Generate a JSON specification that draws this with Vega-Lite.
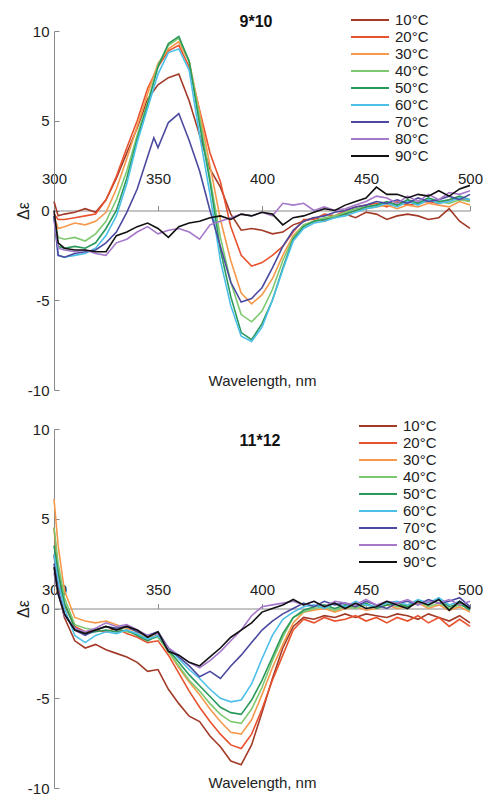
{
"$schema":"https://vega.github.io/schema/vega-lite/v6.json",
"background":"white",
"padding":{"left":15,"top":11,"right":2,"bottom":2},
"config":{"font":"Liberation Sans","view":{"stroke":null},
"axis":{"domainColor":"#8a8a8a","tickColor":"#8a8a8a","labelColor":"#222","titleColor":"#222","grid":false,"titleFontWeight":"normal","labelFont":"Liberation Sans","titleFont":"Liberation Sans"},
"legend":{"labelFont":"Liberation Sans","labelColor":"#222","padding":0}},
"spacing":39,
"bounds":"flush",
"resolve":{"legend":{"color":"independent"}},
"datasets":{
"p1":[
{"temp":"10°C","nm":300,"de":0.5},{"temp":"10°C","nm":302,"de":-0.3},{"temp":"10°C","nm":305,"de":-0.2},{"temp":"10°C","nm":310,"de":-0.1},{"temp":"10°C","nm":315,"de":0.1},{"temp":"10°C","nm":320,"de":-0.1},{"temp":"10°C","nm":325,"de":0.6},{"temp":"10°C","nm":330,"de":1.8},{"temp":"10°C","nm":335,"de":3.2},{"temp":"10°C","nm":340,"de":4.6},{"temp":"10°C","nm":345,"de":6.2},{"temp":"10°C","nm":350,"de":7.0},{"temp":"10°C","nm":355,"de":7.4},{"temp":"10°C","nm":360,"de":7.6},{"temp":"10°C","nm":365,"de":6.1},{"temp":"10°C","nm":370,"de":4.2},{"temp":"10°C","nm":375,"de":2.3},{"temp":"10°C","nm":380,"de":1.3},{"temp":"10°C","nm":385,"de":-0.2},{"temp":"10°C","nm":390,"de":-1.1},{"temp":"10°C","nm":395,"de":-1.0},{"temp":"10°C","nm":400,"de":-1.1},{"temp":"10°C","nm":405,"de":-1.3},{"temp":"10°C","nm":410,"de":-1.2},{"temp":"10°C","nm":415,"de":-0.8},{"temp":"10°C","nm":420,"de":-0.6},{"temp":"10°C","nm":425,"de":-0.4},{"temp":"10°C","nm":430,"de":-0.6},{"temp":"10°C","nm":435,"de":-0.3},{"temp":"10°C","nm":440,"de":-0.2},{"temp":"10°C","nm":445,"de":-0.4},{"temp":"10°C","nm":450,"de":-0.1},{"temp":"10°C","nm":455,"de":-0.2},{"temp":"10°C","nm":460,"de":-0.5},{"temp":"10°C","nm":465,"de":-0.3},{"temp":"10°C","nm":470,"de":-0.2},{"temp":"10°C","nm":475,"de":-0.3},{"temp":"10°C","nm":480,"de":-0.5},{"temp":"10°C","nm":485,"de":-0.4},{"temp":"10°C","nm":490,"de":0.1},{"temp":"10°C","nm":495,"de":-0.6},{"temp":"10°C","nm":500,"de":-1.0},
{"temp":"20°C","nm":300,"de":-0.2},{"temp":"20°C","nm":302,"de":-0.5},{"temp":"20°C","nm":305,"de":-0.5},{"temp":"20°C","nm":310,"de":-0.4},{"temp":"20°C","nm":315,"de":-0.3},{"temp":"20°C","nm":320,"de":-0.2},{"temp":"20°C","nm":325,"de":0.6},{"temp":"20°C","nm":330,"de":1.9},{"temp":"20°C","nm":335,"de":3.5},{"temp":"20°C","nm":340,"de":5.0},{"temp":"20°C","nm":345,"de":6.8},{"temp":"20°C","nm":350,"de":8.0},{"temp":"20°C","nm":355,"de":8.9},{"temp":"20°C","nm":360,"de":9.2},{"temp":"20°C","nm":365,"de":8.0},{"temp":"20°C","nm":370,"de":5.6},{"temp":"20°C","nm":375,"de":3.2},{"temp":"20°C","nm":380,"de":1.6},{"temp":"20°C","nm":385,"de":-0.9},{"temp":"20°C","nm":390,"de":-2.5},{"temp":"20°C","nm":395,"de":-3.1},{"temp":"20°C","nm":400,"de":-2.9},{"temp":"20°C","nm":405,"de":-2.5},{"temp":"20°C","nm":410,"de":-2.0},{"temp":"20°C","nm":415,"de":-1.2},{"temp":"20°C","nm":420,"de":-0.5},{"temp":"20°C","nm":425,"de":-0.5},{"temp":"20°C","nm":430,"de":-0.2},{"temp":"20°C","nm":435,"de":-0.3},{"temp":"20°C","nm":440,"de":0.0},{"temp":"20°C","nm":445,"de":0.2},{"temp":"20°C","nm":450,"de":0.3},{"temp":"20°C","nm":455,"de":0.4},{"temp":"20°C","nm":460,"de":0.2},{"temp":"20°C","nm":465,"de":0.5},{"temp":"20°C","nm":470,"de":0.3},{"temp":"20°C","nm":475,"de":0.4},{"temp":"20°C","nm":480,"de":0.5},{"temp":"20°C","nm":485,"de":0.4},{"temp":"20°C","nm":490,"de":0.6},{"temp":"20°C","nm":495,"de":0.7},{"temp":"20°C","nm":500,"de":0.5},
{"temp":"30°C","nm":300,"de":-0.3},{"temp":"30°C","nm":302,"de":-1.0},{"temp":"30°C","nm":305,"de":-0.9},{"temp":"30°C","nm":310,"de":-0.7},{"temp":"30°C","nm":315,"de":-0.8},{"temp":"30°C","nm":320,"de":-0.6},{"temp":"30°C","nm":325,"de":-0.1},{"temp":"30°C","nm":330,"de":1.2},{"temp":"30°C","nm":335,"de":2.9},{"temp":"30°C","nm":340,"de":4.7},{"temp":"30°C","nm":345,"de":6.5},{"temp":"30°C","nm":350,"de":8.2},{"temp":"30°C","nm":355,"de":9.0},{"temp":"30°C","nm":360,"de":9.4},{"temp":"30°C","nm":365,"de":8.3},{"temp":"30°C","nm":370,"de":5.5},{"temp":"30°C","nm":375,"de":2.5},{"temp":"30°C","nm":380,"de":-0.5},{"temp":"30°C","nm":385,"de":-2.8},{"temp":"30°C","nm":390,"de":-4.6},{"temp":"30°C","nm":395,"de":-5.2},{"temp":"30°C","nm":400,"de":-4.7},{"temp":"30°C","nm":405,"de":-3.8},{"temp":"30°C","nm":410,"de":-2.5},{"temp":"30°C","nm":415,"de":-1.4},{"temp":"30°C","nm":420,"de":-0.8},{"temp":"30°C","nm":425,"de":-0.6},{"temp":"30°C","nm":430,"de":-0.5},{"temp":"30°C","nm":435,"de":-0.3},{"temp":"30°C","nm":440,"de":-0.2},{"temp":"30°C","nm":445,"de":0.0},{"temp":"30°C","nm":450,"de":0.1},{"temp":"30°C","nm":455,"de":0.2},{"temp":"30°C","nm":460,"de":0.3},{"temp":"30°C","nm":465,"de":0.1},{"temp":"30°C","nm":470,"de":0.3},{"temp":"30°C","nm":475,"de":0.2},{"temp":"30°C","nm":480,"de":0.4},{"temp":"30°C","nm":485,"de":0.3},{"temp":"30°C","nm":490,"de":0.2},{"temp":"30°C","nm":495,"de":0.5},{"temp":"30°C","nm":500,"de":0.3},
{"temp":"40°C","nm":300,"de":-0.5},{"temp":"40°C","nm":302,"de":-1.5},{"temp":"40°C","nm":305,"de":-1.6},{"temp":"40°C","nm":310,"de":-1.5},{"temp":"40°C","nm":315,"de":-1.7},{"temp":"40°C","nm":320,"de":-1.3},{"temp":"40°C","nm":325,"de":-0.6},{"temp":"40°C","nm":330,"de":0.6},{"temp":"40°C","nm":335,"de":2.2},{"temp":"40°C","nm":340,"de":4.2},{"temp":"40°C","nm":345,"de":6.0},{"temp":"40°C","nm":350,"de":8.1},{"temp":"40°C","nm":355,"de":9.2},{"temp":"40°C","nm":360,"de":9.6},{"temp":"40°C","nm":365,"de":8.3},{"temp":"40°C","nm":370,"de":5.2},{"temp":"40°C","nm":375,"de":1.8},{"temp":"40°C","nm":380,"de":-1.5},{"temp":"40°C","nm":385,"de":-4.0},{"temp":"40°C","nm":390,"de":-5.8},{"temp":"40°C","nm":395,"de":-6.2},{"temp":"40°C","nm":400,"de":-5.6},{"temp":"40°C","nm":405,"de":-4.4},{"temp":"40°C","nm":410,"de":-2.8},{"temp":"40°C","nm":415,"de":-1.5},{"temp":"40°C","nm":420,"de":-0.8},{"temp":"40°C","nm":425,"de":-0.6},{"temp":"40°C","nm":430,"de":-0.4},{"temp":"40°C","nm":435,"de":-0.3},{"temp":"40°C","nm":440,"de":-0.1},{"temp":"40°C","nm":445,"de":0.1},{"temp":"40°C","nm":450,"de":0.2},{"temp":"40°C","nm":455,"de":0.3},{"temp":"40°C","nm":460,"de":0.4},{"temp":"40°C","nm":465,"de":0.3},{"temp":"40°C","nm":470,"de":0.5},{"temp":"40°C","nm":475,"de":0.4},{"temp":"40°C","nm":480,"de":0.6},{"temp":"40°C","nm":485,"de":0.5},{"temp":"40°C","nm":490,"de":0.4},{"temp":"40°C","nm":495,"de":0.6},{"temp":"40°C","nm":500,"de":0.5},
{"temp":"50°C","nm":300,"de":-0.3},{"temp":"50°C","nm":302,"de":-2.0},{"temp":"50°C","nm":305,"de":-2.1},{"temp":"50°C","nm":310,"de":-2.0},{"temp":"50°C","nm":315,"de":-2.1},{"temp":"50°C","nm":320,"de":-1.8},{"temp":"50°C","nm":325,"de":-1.0},{"temp":"50°C","nm":330,"de":0.0},{"temp":"50°C","nm":335,"de":1.8},{"temp":"50°C","nm":340,"de":4.0},{"temp":"50°C","nm":345,"de":5.9},{"temp":"50°C","nm":350,"de":8.0},{"temp":"50°C","nm":355,"de":9.3},{"temp":"50°C","nm":360,"de":9.7},{"temp":"50°C","nm":365,"de":8.3},{"temp":"50°C","nm":370,"de":4.8},{"temp":"50°C","nm":375,"de":1.6},{"temp":"50°C","nm":380,"de":-2.2},{"temp":"50°C","nm":385,"de":-4.8},{"temp":"50°C","nm":390,"de":-6.8},{"temp":"50°C","nm":395,"de":-7.2},{"temp":"50°C","nm":400,"de":-6.3},{"temp":"50°C","nm":405,"de":-5.0},{"temp":"50°C","nm":410,"de":-3.2},{"temp":"50°C","nm":415,"de":-1.6},{"temp":"50°C","nm":420,"de":-0.9},{"temp":"50°C","nm":425,"de":-0.6},{"temp":"50°C","nm":430,"de":-0.5},{"temp":"50°C","nm":435,"de":-0.4},{"temp":"50°C","nm":440,"de":-0.2},{"temp":"50°C","nm":445,"de":0.0},{"temp":"50°C","nm":450,"de":0.2},{"temp":"50°C","nm":455,"de":0.3},{"temp":"50°C","nm":460,"de":0.5},{"temp":"50°C","nm":465,"de":0.3},{"temp":"50°C","nm":470,"de":0.6},{"temp":"50°C","nm":475,"de":0.4},{"temp":"50°C","nm":480,"de":0.7},{"temp":"50°C","nm":485,"de":0.5},{"temp":"50°C","nm":490,"de":0.6},{"temp":"50°C","nm":495,"de":0.8},{"temp":"50°C","nm":500,"de":0.6},
{"temp":"60°C","nm":300,"de":-0.3},{"temp":"60°C","nm":302,"de":-2.5},{"temp":"60°C","nm":305,"de":-2.6},{"temp":"60°C","nm":310,"de":-2.5},{"temp":"60°C","nm":315,"de":-2.4},{"temp":"60°C","nm":320,"de":-2.1},{"temp":"60°C","nm":325,"de":-1.4},{"temp":"60°C","nm":330,"de":-0.3},{"temp":"60°C","nm":335,"de":1.5},{"temp":"60°C","nm":340,"de":3.8},{"temp":"60°C","nm":345,"de":5.7},{"temp":"60°C","nm":350,"de":7.6},{"temp":"60°C","nm":355,"de":8.8},{"temp":"60°C","nm":360,"de":9.0},{"temp":"60°C","nm":365,"de":7.8},{"temp":"60°C","nm":370,"de":4.2},{"temp":"60°C","nm":375,"de":0.9},{"temp":"60°C","nm":380,"de":-2.8},{"temp":"60°C","nm":385,"de":-5.3},{"temp":"60°C","nm":390,"de":-7.0},{"temp":"60°C","nm":395,"de":-7.3},{"temp":"60°C","nm":400,"de":-6.5},{"temp":"60°C","nm":405,"de":-5.0},{"temp":"60°C","nm":410,"de":-3.3},{"temp":"60°C","nm":415,"de":-1.7},{"temp":"60°C","nm":420,"de":-1.0},{"temp":"60°C","nm":425,"de":-0.7},{"temp":"60°C","nm":430,"de":-0.6},{"temp":"60°C","nm":435,"de":-0.4},{"temp":"60°C","nm":440,"de":-0.3},{"temp":"60°C","nm":445,"de":-0.1},{"temp":"60°C","nm":450,"de":0.1},{"temp":"60°C","nm":455,"de":0.2},{"temp":"60°C","nm":460,"de":0.4},{"temp":"60°C","nm":465,"de":0.2},{"temp":"60°C","nm":470,"de":0.5},{"temp":"60°C","nm":475,"de":0.3},{"temp":"60°C","nm":480,"de":0.6},{"temp":"60°C","nm":485,"de":0.4},{"temp":"60°C","nm":490,"de":0.5},{"temp":"60°C","nm":495,"de":0.7},{"temp":"60°C","nm":500,"de":0.6},
{"temp":"70°C","nm":300,"de":-0.3},{"temp":"70°C","nm":302,"de":-2.5},{"temp":"70°C","nm":305,"de":-2.6},{"temp":"70°C","nm":310,"de":-2.4},{"temp":"70°C","nm":315,"de":-2.3},{"temp":"70°C","nm":320,"de":-2.2},{"temp":"70°C","nm":325,"de":-1.8},{"temp":"70°C","nm":330,"de":-1.2},{"temp":"70°C","nm":335,"de":-0.1},{"temp":"70°C","nm":340,"de":1.2},{"temp":"70°C","nm":345,"de":3.0},{"temp":"70°C","nm":348,"de":4.05},{"temp":"70°C","nm":350,"de":3.5},{"temp":"70°C","nm":355,"de":4.9},{"temp":"70°C","nm":360,"de":5.4},{"temp":"70°C","nm":365,"de":3.9},{"temp":"70°C","nm":370,"de":2.2},{"temp":"70°C","nm":375,"de":0.0},{"temp":"70°C","nm":380,"de":-2.0},{"temp":"70°C","nm":385,"de":-4.0},{"temp":"70°C","nm":390,"de":-5.1},{"temp":"70°C","nm":395,"de":-4.9},{"temp":"70°C","nm":400,"de":-4.3},{"temp":"70°C","nm":405,"de":-3.2},{"temp":"70°C","nm":410,"de":-2.0},{"temp":"70°C","nm":415,"de":-1.1},{"temp":"70°C","nm":420,"de":-0.6},{"temp":"70°C","nm":425,"de":-0.4},{"temp":"70°C","nm":430,"de":-0.3},{"temp":"70°C","nm":435,"de":-0.1},{"temp":"70°C","nm":440,"de":0.0},{"temp":"70°C","nm":445,"de":0.2},{"temp":"70°C","nm":450,"de":0.3},{"temp":"70°C","nm":455,"de":0.5},{"temp":"70°C","nm":460,"de":0.4},{"temp":"70°C","nm":465,"de":0.6},{"temp":"70°C","nm":470,"de":0.4},{"temp":"70°C","nm":475,"de":0.7},{"temp":"70°C","nm":480,"de":0.5},{"temp":"70°C","nm":485,"de":0.6},{"temp":"70°C","nm":490,"de":0.8},{"temp":"70°C","nm":495,"de":0.6},{"temp":"70°C","nm":500,"de":0.9},
{"temp":"80°C","nm":300,"de":-0.5},{"temp":"80°C","nm":302,"de":-2.1},{"temp":"80°C","nm":305,"de":-2.2},{"temp":"80°C","nm":310,"de":-2.3},{"temp":"80°C","nm":315,"de":-2.2},{"temp":"80°C","nm":320,"de":-2.4},{"temp":"80°C","nm":325,"de":-2.5},{"temp":"80°C","nm":330,"de":-1.8},{"temp":"80°C","nm":335,"de":-1.6},{"temp":"80°C","nm":340,"de":-1.2},{"temp":"80°C","nm":345,"de":-0.9},{"temp":"80°C","nm":350,"de":-1.3},{"temp":"80°C","nm":355,"de":-1.1},{"temp":"80°C","nm":360,"de":-1.0},{"temp":"80°C","nm":365,"de":-1.2},{"temp":"80°C","nm":370,"de":-1.6},{"temp":"80°C","nm":375,"de":-0.8},{"temp":"80°C","nm":380,"de":-0.6},{"temp":"80°C","nm":385,"de":-0.4},{"temp":"80°C","nm":390,"de":-0.2},{"temp":"80°C","nm":395,"de":-0.3},{"temp":"80°C","nm":400,"de":-0.1},{"temp":"80°C","nm":405,"de":-0.3},{"temp":"80°C","nm":410,"de":0.4},{"temp":"80°C","nm":415,"de":0.3},{"temp":"80°C","nm":420,"de":0.4},{"temp":"80°C","nm":425,"de":0.0},{"temp":"80°C","nm":430,"de":0.2},{"temp":"80°C","nm":435,"de":0.0},{"temp":"80°C","nm":440,"de":0.1},{"temp":"80°C","nm":445,"de":0.3},{"temp":"80°C","nm":450,"de":0.5},{"temp":"80°C","nm":455,"de":0.8},{"temp":"80°C","nm":460,"de":0.7},{"temp":"80°C","nm":465,"de":0.4},{"temp":"80°C","nm":470,"de":0.8},{"temp":"80°C","nm":475,"de":0.5},{"temp":"80°C","nm":480,"de":0.9},{"temp":"80°C","nm":485,"de":0.6},{"temp":"80°C","nm":490,"de":1.0},{"temp":"80°C","nm":495,"de":0.9},{"temp":"80°C","nm":500,"de":1.1},
{"temp":"90°C","nm":300,"de":0.0},{"temp":"90°C","nm":302,"de":-1.8},{"temp":"90°C","nm":305,"de":-2.1},{"temp":"90°C","nm":310,"de":-2.2},{"temp":"90°C","nm":315,"de":-2.2},{"temp":"90°C","nm":320,"de":-2.3},{"temp":"90°C","nm":325,"de":-2.3},{"temp":"90°C","nm":330,"de":-1.4},{"temp":"90°C","nm":335,"de":-1.2},{"temp":"90°C","nm":340,"de":-0.9},{"temp":"90°C","nm":345,"de":-0.7},{"temp":"90°C","nm":350,"de":-1.0},{"temp":"90°C","nm":355,"de":-1.5},{"temp":"90°C","nm":360,"de":-0.9},{"temp":"90°C","nm":365,"de":-0.7},{"temp":"90°C","nm":370,"de":-0.6},{"temp":"90°C","nm":375,"de":-0.4},{"temp":"90°C","nm":380,"de":-0.3},{"temp":"90°C","nm":385,"de":-0.5},{"temp":"90°C","nm":390,"de":-0.2},{"temp":"90°C","nm":395,"de":-0.3},{"temp":"90°C","nm":400,"de":-0.1},{"temp":"90°C","nm":405,"de":-0.2},{"temp":"90°C","nm":410,"de":-0.8},{"temp":"90°C","nm":415,"de":-0.4},{"temp":"90°C","nm":420,"de":-0.3},{"temp":"90°C","nm":425,"de":-0.1},{"temp":"90°C","nm":430,"de":0.1},{"temp":"90°C","nm":435,"de":0.0},{"temp":"90°C","nm":440,"de":0.3},{"temp":"90°C","nm":445,"de":0.5},{"temp":"90°C","nm":450,"de":0.7},{"temp":"90°C","nm":455,"de":1.3},{"temp":"90°C","nm":460,"de":0.9},{"temp":"90°C","nm":465,"de":0.9},{"temp":"90°C","nm":470,"de":0.7},{"temp":"90°C","nm":475,"de":0.9},{"temp":"90°C","nm":480,"de":0.8},{"temp":"90°C","nm":485,"de":1.1},{"temp":"90°C","nm":490,"de":0.8},{"temp":"90°C","nm":495,"de":1.2},{"temp":"90°C","nm":500,"de":1.4}
],
"p2":[
{"temp":"10°C","nm":300,"de":3.0},{"temp":"10°C","nm":302,"de":1.0},{"temp":"10°C","nm":305,"de":-0.5},{"temp":"10°C","nm":310,"de":-1.8},{"temp":"10°C","nm":315,"de":-2.2},{"temp":"10°C","nm":320,"de":-2.0},{"temp":"10°C","nm":325,"de":-2.3},{"temp":"10°C","nm":330,"de":-2.5},{"temp":"10°C","nm":335,"de":-2.7},{"temp":"10°C","nm":340,"de":-3.0},{"temp":"10°C","nm":345,"de":-3.5},{"temp":"10°C","nm":350,"de":-3.4},{"temp":"10°C","nm":355,"de":-4.5},{"temp":"10°C","nm":360,"de":-5.3},{"temp":"10°C","nm":365,"de":-6.0},{"temp":"10°C","nm":370,"de":-6.3},{"temp":"10°C","nm":375,"de":-7.1},{"temp":"10°C","nm":380,"de":-7.7},{"temp":"10°C","nm":385,"de":-8.5},{"temp":"10°C","nm":390,"de":-8.7},{"temp":"10°C","nm":395,"de":-7.6},{"temp":"10°C","nm":400,"de":-5.8},{"temp":"10°C","nm":405,"de":-3.9},{"temp":"10°C","nm":410,"de":-2.2},{"temp":"10°C","nm":415,"de":-1.0},{"temp":"10°C","nm":420,"de":-0.5},{"temp":"10°C","nm":425,"de":-0.6},{"temp":"10°C","nm":430,"de":-0.4},{"temp":"10°C","nm":435,"de":-0.5},{"temp":"10°C","nm":440,"de":-0.3},{"temp":"10°C","nm":445,"de":-0.5},{"temp":"10°C","nm":450,"de":-0.3},{"temp":"10°C","nm":455,"de":-0.4},{"temp":"10°C","nm":460,"de":-0.5},{"temp":"10°C","nm":465,"de":-0.3},{"temp":"10°C","nm":470,"de":-0.4},{"temp":"10°C","nm":475,"de":-0.6},{"temp":"10°C","nm":480,"de":-0.3},{"temp":"10°C","nm":485,"de":-0.5},{"temp":"10°C","nm":490,"de":-0.7},{"temp":"10°C","nm":495,"de":-0.4},{"temp":"10°C","nm":500,"de":-0.8},
{"temp":"20°C","nm":300,"de":4.5},{"temp":"20°C","nm":302,"de":2.0},{"temp":"20°C","nm":305,"de":0.2},{"temp":"20°C","nm":310,"de":-1.0},{"temp":"20°C","nm":315,"de":-1.3},{"temp":"20°C","nm":320,"de":-1.2},{"temp":"20°C","nm":325,"de":-1.3},{"temp":"20°C","nm":330,"de":-1.1},{"temp":"20°C","nm":335,"de":-1.4},{"temp":"20°C","nm":340,"de":-1.6},{"temp":"20°C","nm":345,"de":-1.9},{"temp":"20°C","nm":350,"de":-1.8},{"temp":"20°C","nm":355,"de":-2.6},{"temp":"20°C","nm":360,"de":-3.6},{"temp":"20°C","nm":365,"de":-4.6},{"temp":"20°C","nm":370,"de":-5.5},{"temp":"20°C","nm":375,"de":-6.3},{"temp":"20°C","nm":380,"de":-7.0},{"temp":"20°C","nm":385,"de":-7.6},{"temp":"20°C","nm":390,"de":-7.8},{"temp":"20°C","nm":395,"de":-7.0},{"temp":"20°C","nm":400,"de":-5.6},{"temp":"20°C","nm":405,"de":-4.0},{"temp":"20°C","nm":410,"de":-2.6},{"temp":"20°C","nm":415,"de":-1.2},{"temp":"20°C","nm":420,"de":-0.6},{"temp":"20°C","nm":425,"de":-0.8},{"temp":"20°C","nm":430,"de":-0.5},{"temp":"20°C","nm":435,"de":-0.7},{"temp":"20°C","nm":440,"de":-0.6},{"temp":"20°C","nm":445,"de":-0.4},{"temp":"20°C","nm":450,"de":-0.7},{"temp":"20°C","nm":455,"de":-0.5},{"temp":"20°C","nm":460,"de":-0.8},{"temp":"20°C","nm":465,"de":-0.5},{"temp":"20°C","nm":470,"de":-0.7},{"temp":"20°C","nm":475,"de":-0.4},{"temp":"20°C","nm":480,"de":-0.8},{"temp":"20°C","nm":485,"de":-0.5},{"temp":"20°C","nm":490,"de":-1.0},{"temp":"20°C","nm":495,"de":-0.6},{"temp":"20°C","nm":500,"de":-1.0},
{"temp":"30°C","nm":300,"de":6.1},{"temp":"30°C","nm":302,"de":3.5},{"temp":"30°C","nm":305,"de":1.0},{"temp":"30°C","nm":310,"de":-0.5},{"temp":"30°C","nm":315,"de":-0.7},{"temp":"30°C","nm":320,"de":-0.8},{"temp":"30°C","nm":325,"de":-0.7},{"temp":"30°C","nm":330,"de":-0.9},{"temp":"30°C","nm":335,"de":-1.1},{"temp":"30°C","nm":340,"de":-1.3},{"temp":"30°C","nm":345,"de":-1.6},{"temp":"30°C","nm":350,"de":-1.5},{"temp":"30°C","nm":355,"de":-2.4},{"temp":"30°C","nm":360,"de":-3.3},{"temp":"30°C","nm":365,"de":-4.1},{"temp":"30°C","nm":370,"de":-4.8},{"temp":"30°C","nm":375,"de":-5.6},{"temp":"30°C","nm":380,"de":-6.3},{"temp":"30°C","nm":385,"de":-6.9},{"temp":"30°C","nm":390,"de":-7.0},{"temp":"30°C","nm":395,"de":-6.2},{"temp":"30°C","nm":400,"de":-4.8},{"temp":"30°C","nm":405,"de":-3.3},{"temp":"30°C","nm":410,"de":-2.0},{"temp":"30°C","nm":415,"de":-0.8},{"temp":"30°C","nm":420,"de":-0.2},{"temp":"30°C","nm":425,"de":-0.1},{"temp":"30°C","nm":430,"de":0.0},{"temp":"30°C","nm":435,"de":-0.2},{"temp":"30°C","nm":440,"de":0.0},{"temp":"30°C","nm":445,"de":0.1},{"temp":"30°C","nm":450,"de":-0.1},{"temp":"30°C","nm":455,"de":0.0},{"temp":"30°C","nm":460,"de":0.2},{"temp":"30°C","nm":465,"de":0.0},{"temp":"30°C","nm":470,"de":0.1},{"temp":"30°C","nm":475,"de":0.3},{"temp":"30°C","nm":480,"de":0.0},{"temp":"30°C","nm":485,"de":0.2},{"temp":"30°C","nm":490,"de":-0.1},{"temp":"30°C","nm":495,"de":0.1},{"temp":"30°C","nm":500,"de":-0.2},
{"temp":"40°C","nm":300,"de":4.5},{"temp":"40°C","nm":302,"de":2.5},{"temp":"40°C","nm":305,"de":0.6},{"temp":"40°C","nm":310,"de":-0.9},{"temp":"40°C","nm":315,"de":-1.1},{"temp":"40°C","nm":320,"de":-1.2},{"temp":"40°C","nm":325,"de":-1.0},{"temp":"40°C","nm":330,"de":-1.1},{"temp":"40°C","nm":335,"de":-1.3},{"temp":"40°C","nm":340,"de":-1.4},{"temp":"40°C","nm":345,"de":-1.7},{"temp":"40°C","nm":350,"de":-1.6},{"temp":"40°C","nm":355,"de":-2.4},{"temp":"40°C","nm":360,"de":-3.2},{"temp":"40°C","nm":365,"de":-4.0},{"temp":"40°C","nm":370,"de":-4.6},{"temp":"40°C","nm":375,"de":-5.3},{"temp":"40°C","nm":380,"de":-5.9},{"temp":"40°C","nm":385,"de":-6.3},{"temp":"40°C","nm":390,"de":-6.4},{"temp":"40°C","nm":395,"de":-5.6},{"temp":"40°C","nm":400,"de":-4.4},{"temp":"40°C","nm":405,"de":-2.9},{"temp":"40°C","nm":410,"de":-1.6},{"temp":"40°C","nm":415,"de":-0.5},{"temp":"40°C","nm":420,"de":-0.2},{"temp":"40°C","nm":425,"de":0.0},{"temp":"40°C","nm":430,"de":0.1},{"temp":"40°C","nm":435,"de":-0.1},{"temp":"40°C","nm":440,"de":0.1},{"temp":"40°C","nm":445,"de":0.0},{"temp":"40°C","nm":450,"de":0.2},{"temp":"40°C","nm":455,"de":0.1},{"temp":"40°C","nm":460,"de":0.3},{"temp":"40°C","nm":465,"de":0.1},{"temp":"40°C","nm":470,"de":0.2},{"temp":"40°C","nm":475,"de":0.4},{"temp":"40°C","nm":480,"de":0.1},{"temp":"40°C","nm":485,"de":0.3},{"temp":"40°C","nm":490,"de":0.0},{"temp":"40°C","nm":495,"de":0.2},{"temp":"40°C","nm":500,"de":0.0},
{"temp":"50°C","nm":300,"de":3.5},{"temp":"50°C","nm":302,"de":2.0},{"temp":"50°C","nm":305,"de":0.3},{"temp":"50°C","nm":310,"de":-1.1},{"temp":"50°C","nm":315,"de":-1.4},{"temp":"50°C","nm":320,"de":-1.3},{"temp":"50°C","nm":325,"de":-1.2},{"temp":"50°C","nm":330,"de":-1.3},{"temp":"50°C","nm":335,"de":-1.2},{"temp":"50°C","nm":340,"de":-1.5},{"temp":"50°C","nm":345,"de":-1.8},{"temp":"50°C","nm":350,"de":-1.5},{"temp":"50°C","nm":355,"de":-2.3},{"temp":"50°C","nm":360,"de":-3.0},{"temp":"50°C","nm":365,"de":-3.7},{"temp":"50°C","nm":370,"de":-4.3},{"temp":"50°C","nm":375,"de":-4.9},{"temp":"50°C","nm":380,"de":-5.5},{"temp":"50°C","nm":385,"de":-5.8},{"temp":"50°C","nm":390,"de":-5.9},{"temp":"50°C","nm":395,"de":-5.1},{"temp":"50°C","nm":400,"de":-4.0},{"temp":"50°C","nm":405,"de":-2.7},{"temp":"50°C","nm":410,"de":-1.4},{"temp":"50°C","nm":415,"de":-0.5},{"temp":"50°C","nm":420,"de":-0.1},{"temp":"50°C","nm":425,"de":0.1},{"temp":"50°C","nm":430,"de":0.2},{"temp":"50°C","nm":435,"de":0.0},{"temp":"50°C","nm":440,"de":0.2},{"temp":"50°C","nm":445,"de":0.1},{"temp":"50°C","nm":450,"de":0.3},{"temp":"50°C","nm":455,"de":0.0},{"temp":"50°C","nm":460,"de":0.2},{"temp":"50°C","nm":465,"de":0.3},{"temp":"50°C","nm":470,"de":0.1},{"temp":"50°C","nm":475,"de":0.4},{"temp":"50°C","nm":480,"de":0.2},{"temp":"50°C","nm":485,"de":0.5},{"temp":"50°C","nm":490,"de":0.1},{"temp":"50°C","nm":495,"de":0.3},{"temp":"50°C","nm":500,"de":-0.1},
{"temp":"60°C","nm":300,"de":3.0},{"temp":"60°C","nm":302,"de":1.5},{"temp":"60°C","nm":305,"de":0.0},{"temp":"60°C","nm":310,"de":-1.5},{"temp":"60°C","nm":315,"de":-1.9},{"temp":"60°C","nm":320,"de":-1.5},{"temp":"60°C","nm":325,"de":-1.3},{"temp":"60°C","nm":330,"de":-1.4},{"temp":"60°C","nm":335,"de":-1.2},{"temp":"60°C","nm":340,"de":-1.4},{"temp":"60°C","nm":345,"de":-1.7},{"temp":"60°C","nm":350,"de":-1.5},{"temp":"60°C","nm":355,"de":-2.2},{"temp":"60°C","nm":360,"de":-2.8},{"temp":"60°C","nm":365,"de":-3.4},{"temp":"60°C","nm":370,"de":-3.9},{"temp":"60°C","nm":375,"de":-4.5},{"temp":"60°C","nm":380,"de":-5.0},{"temp":"60°C","nm":385,"de":-5.2},{"temp":"60°C","nm":390,"de":-5.1},{"temp":"60°C","nm":395,"de":-4.2},{"temp":"60°C","nm":400,"de":-2.8},{"temp":"60°C","nm":405,"de":-1.5},{"temp":"60°C","nm":410,"de":-0.6},{"temp":"60°C","nm":415,"de":-0.2},{"temp":"60°C","nm":420,"de":0.1},{"temp":"60°C","nm":425,"de":0.2},{"temp":"60°C","nm":430,"de":0.0},{"temp":"60°C","nm":435,"de":0.3},{"temp":"60°C","nm":440,"de":0.1},{"temp":"60°C","nm":445,"de":0.4},{"temp":"60°C","nm":450,"de":0.2},{"temp":"60°C","nm":455,"de":0.1},{"temp":"60°C","nm":460,"de":0.3},{"temp":"60°C","nm":465,"de":0.4},{"temp":"60°C","nm":470,"de":0.2},{"temp":"60°C","nm":475,"de":0.5},{"temp":"60°C","nm":480,"de":0.3},{"temp":"60°C","nm":485,"de":0.6},{"temp":"60°C","nm":490,"de":0.2},{"temp":"60°C","nm":495,"de":0.4},{"temp":"60°C","nm":500,"de":0.0},
{"temp":"70°C","nm":300,"de":2.5},{"temp":"70°C","nm":302,"de":1.0},{"temp":"70°C","nm":305,"de":-0.3},{"temp":"70°C","nm":310,"de":-1.2},{"temp":"70°C","nm":315,"de":-1.5},{"temp":"70°C","nm":320,"de":-1.2},{"temp":"70°C","nm":325,"de":-1.0},{"temp":"70°C","nm":330,"de":-1.1},{"temp":"70°C","nm":335,"de":-1.0},{"temp":"70°C","nm":340,"de":-1.3},{"temp":"70°C","nm":345,"de":-1.5},{"temp":"70°C","nm":350,"de":-1.3},{"temp":"70°C","nm":355,"de":-2.2},{"temp":"70°C","nm":360,"de":-2.7},{"temp":"70°C","nm":365,"de":-3.2},{"temp":"70°C","nm":370,"de":-3.8},{"temp":"70°C","nm":375,"de":-3.5},{"temp":"70°C","nm":380,"de":-3.9},{"temp":"70°C","nm":385,"de":-3.2},{"temp":"70°C","nm":390,"de":-2.6},{"temp":"70°C","nm":395,"de":-1.9},{"temp":"70°C","nm":400,"de":-1.2},{"temp":"70°C","nm":405,"de":-0.7},{"temp":"70°C","nm":410,"de":-0.3},{"temp":"70°C","nm":415,"de":0.0},{"temp":"70°C","nm":420,"de":0.3},{"temp":"70°C","nm":425,"de":0.1},{"temp":"70°C","nm":430,"de":0.4},{"temp":"70°C","nm":435,"de":0.2},{"temp":"70°C","nm":440,"de":0.3},{"temp":"70°C","nm":445,"de":0.1},{"temp":"70°C","nm":450,"de":0.4},{"temp":"70°C","nm":455,"de":0.2},{"temp":"70°C","nm":460,"de":0.0},{"temp":"70°C","nm":465,"de":0.3},{"temp":"70°C","nm":470,"de":0.4},{"temp":"70°C","nm":475,"de":0.2},{"temp":"70°C","nm":480,"de":0.5},{"temp":"70°C","nm":485,"de":0.3},{"temp":"70°C","nm":490,"de":0.4},{"temp":"70°C","nm":495,"de":0.6},{"temp":"70°C","nm":500,"de":0.1},
{"temp":"80°C","nm":300,"de":2.0},{"temp":"80°C","nm":302,"de":0.8},{"temp":"80°C","nm":305,"de":-0.4},{"temp":"80°C","nm":310,"de":-1.1},{"temp":"80°C","nm":315,"de":-1.3},{"temp":"80°C","nm":320,"de":-1.1},{"temp":"80°C","nm":325,"de":-0.8},{"temp":"80°C","nm":330,"de":-1.0},{"temp":"80°C","nm":335,"de":-0.9},{"temp":"80°C","nm":340,"de":-1.2},{"temp":"80°C","nm":345,"de":-1.5},{"temp":"80°C","nm":350,"de":-1.4},{"temp":"80°C","nm":355,"de":-2.2},{"temp":"80°C","nm":360,"de":-2.6},{"temp":"80°C","nm":365,"de":-3.0},{"temp":"80°C","nm":370,"de":-3.3},{"temp":"80°C","nm":375,"de":-2.9},{"temp":"80°C","nm":380,"de":-2.4},{"temp":"80°C","nm":385,"de":-1.8},{"temp":"80°C","nm":390,"de":-1.2},{"temp":"80°C","nm":395,"de":-0.4},{"temp":"80°C","nm":400,"de":0.1},{"temp":"80°C","nm":405,"de":0.2},{"temp":"80°C","nm":410,"de":0.3},{"temp":"80°C","nm":415,"de":0.4},{"temp":"80°C","nm":420,"de":0.2},{"temp":"80°C","nm":425,"de":0.4},{"temp":"80°C","nm":430,"de":0.1},{"temp":"80°C","nm":435,"de":0.4},{"temp":"80°C","nm":440,"de":0.3},{"temp":"80°C","nm":445,"de":0.2},{"temp":"80°C","nm":450,"de":0.5},{"temp":"80°C","nm":455,"de":0.2},{"temp":"80°C","nm":460,"de":0.4},{"temp":"80°C","nm":465,"de":0.3},{"temp":"80°C","nm":470,"de":0.5},{"temp":"80°C","nm":475,"de":0.2},{"temp":"80°C","nm":480,"de":0.4},{"temp":"80°C","nm":485,"de":0.3},{"temp":"80°C","nm":490,"de":0.5},{"temp":"80°C","nm":495,"de":0.2},{"temp":"80°C","nm":500,"de":0.4},
{"temp":"90°C","nm":300,"de":2.3},{"temp":"90°C","nm":302,"de":0.8},{"temp":"90°C","nm":305,"de":-0.3},{"temp":"90°C","nm":310,"de":-1.2},{"temp":"90°C","nm":315,"de":-1.4},{"temp":"90°C","nm":320,"de":-1.2},{"temp":"90°C","nm":325,"de":-1.0},{"temp":"90°C","nm":330,"de":-1.2},{"temp":"90°C","nm":335,"de":-1.0},{"temp":"90°C","nm":340,"de":-1.2},{"temp":"90°C","nm":345,"de":-1.6},{"temp":"90°C","nm":350,"de":-1.3},{"temp":"90°C","nm":355,"de":-2.4},{"temp":"90°C","nm":360,"de":-2.6},{"temp":"90°C","nm":365,"de":-3.0},{"temp":"90°C","nm":370,"de":-3.2},{"temp":"90°C","nm":375,"de":-2.7},{"temp":"90°C","nm":380,"de":-2.2},{"temp":"90°C","nm":385,"de":-1.6},{"temp":"90°C","nm":390,"de":-1.2},{"temp":"90°C","nm":395,"de":-0.8},{"temp":"90°C","nm":400,"de":-0.2},{"temp":"90°C","nm":405,"de":0.0},{"temp":"90°C","nm":410,"de":0.2},{"temp":"90°C","nm":415,"de":0.5},{"temp":"90°C","nm":420,"de":0.2},{"temp":"90°C","nm":425,"de":0.4},{"temp":"90°C","nm":430,"de":0.1},{"temp":"90°C","nm":435,"de":0.3},{"temp":"90°C","nm":440,"de":0.0},{"temp":"90°C","nm":445,"de":0.3},{"temp":"90°C","nm":450,"de":0.0},{"temp":"90°C","nm":455,"de":0.1},{"temp":"90°C","nm":460,"de":0.4},{"temp":"90°C","nm":465,"de":0.2},{"temp":"90°C","nm":470,"de":0.0},{"temp":"90°C","nm":475,"de":0.4},{"temp":"90°C","nm":480,"de":0.2},{"temp":"90°C","nm":485,"de":0.5},{"temp":"90°C","nm":490,"de":-0.1},{"temp":"90°C","nm":495,"de":0.4},{"temp":"90°C","nm":500,"de":0.0}
]},
"vconcat":[
{"width":416,"height":359,"data":{"name":"p1"},
"title":{"text":"9*10","fontSize":16,"fontWeight":"bold","color":"#111","anchor":"middle","frame":"group","baseline":"middle","offset":-27,"dx":-6},
"mark":{"type":"line","strokeWidth":1.6},
"encoding":{
"x":{"field":"nm","type":"quantitative","scale":{"domain":[300,500],"nice":false,"zero":false},
"axis":{"orient":"top","offset":-179.5,"values":[300,350,400,450,500],"tickSize":5,"labelPadding":19,"labelFontSize":15,"labelFlush":false,"labelOverlap":false,"title":"Wavelength, nm","titleFontSize":15,"titleY":170,"titleBaseline":"middle"}},
"y":{"field":"de","type":"quantitative","scale":{"domain":[-10,10],"nice":false,"zero":false},
"axis":{"values":[-10,-5,0,5,10],"tickSize":-5,"labelPadding":10,"labelFontSize":15,"labelExpr":"'' + datum.value","title":"Δε","titleFontSize":16,"titleX":-31,"titleBaseline":"middle"}},
"color":{"field":"temp","type":"nominal","scale":{"domain":["10°C","20°C","30°C","40°C","50°C","60°C","70°C","80°C","90°C"],"range":["#a33a28","#e8522e","#f6994c","#7ec96f","#2a9a5c","#4cbfe9","#4b4aa0","#a578c9","#111111"]},
"legend":{"orient":"none","legendX":307,"legendY":-20,"title":null,"symbolType":"M-2.5,0H2.5","symbolSize":231,"symbolStrokeWidth":2,"labelFontSize":15,"labelOffset":16,"rowPadding":0}}}},
{"width":416,"height":359,"data":{"name":"p2"},
"title":{"text":"11*12","fontSize":16,"fontWeight":"bold","color":"#111","anchor":"middle","frame":"group","baseline":"middle","offset":-40,"dx":-2},
"mark":{"type":"line","strokeWidth":1.6},
"encoding":{
"x":{"field":"nm","type":"quantitative","scale":{"domain":[300,500],"nice":false,"zero":false},
"axis":{"orient":"top","offset":-179.5,"values":[300,350,400,450,500],"tickSize":5,"labelPadding":6,"labelFontSize":15,"labelFlush":false,"labelOverlap":false,"title":"Wavelength, nm","titleFontSize":15,"titleY":174,"titleBaseline":"middle"}},
"y":{"field":"de","type":"quantitative","scale":{"domain":[-10,10],"nice":false,"zero":false},
"axis":{"values":[-10,-5,0,5,10],"tickSize":-5,"labelPadding":10,"labelFontSize":15,"labelExpr":"'' + datum.value","title":"Δε","titleFontSize":16,"titleX":-31,"titleBaseline":"middle"}},
"color":{"field":"temp","type":"nominal","scale":{"domain":["10°C","20°C","30°C","40°C","50°C","60°C","70°C","80°C","90°C"],"range":["#a33a28","#e8522e","#f6994c","#7ec96f","#2a9a5c","#4cbfe9","#4b4aa0","#a578c9","#111111"]},
"legend":{"orient":"none","legendX":315,"legendY":-12,"title":null,"symbolType":"M-2.5,0H2.5","symbolSize":231,"symbolStrokeWidth":2,"labelFontSize":15,"labelOffset":16,"rowPadding":0}}}}
]
}
